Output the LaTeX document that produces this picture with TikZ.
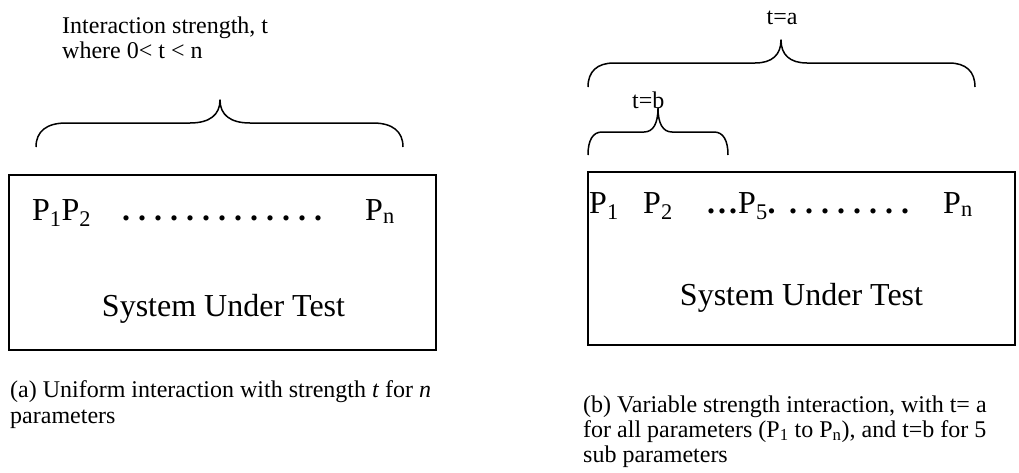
\documentclass[tikz,border=0pt]{standalone}
\usepackage{fontspec}
\setmainfont{Liberation Serif}
\newcommand\curlybrace[8]{%
  \draw[bracestyle] (#2,#5) .. controls (#2,{#6+0.35*(#5-#6)}) and ({#2+0.35*#8},#6) .. ({#2+#8},#6)
    -- ({#4-#8},#6) .. controls ({#4-0.35*#8},#6) and (#4,{#6-0.35*(#6-#7)}) .. (#4,#7)
    .. controls (#4,{#6-0.35*(#6-#7)}) and ({#4+0.35*#8},#6) .. ({#4+#8},#6)
    -- ({#3-#8},#6) .. controls ({#3-0.35*#8},#6) and (#3,{#6+0.35*(#5-#6)}) .. (#3,#5);}
\begin{document}
\frenchspacing
\begin{tikzpicture}[x=1pt,y=-1pt,
  bracestyle/.style={line width=1.5pt, line join=round},
  sysbox/.style={draw, line width=1.6pt, inner sep=0pt},
  lbl/.style={font=\fontsize{24}{26}\selectfont, inner sep=0pt, anchor=base west},
  pbig/.style={font=\fontsize{32}{36}\selectfont, inner sep=0pt, anchor=base west},
  captext/.style={font=\fontsize{24}{26}\selectfont, inner sep=0pt, anchor=base west}]
\useasboundingbox (0,0) rectangle (1019,472);

% ---- (a) ----
\node[sysbox, minimum width=427pt, minimum height=175pt] (boxa) at (222.5,262.5) {};
\curlybrace{a}{36}{403}{220}{147}{123}{100}{30}
\node[lbl] (inta) at (62,33) {Interaction strength, t};
\node[lbl] (intb) at (62,58) {where 0< t < n};
\node[pbig] (pa12) at (32,220) {P\textsubscript{1}P\textsubscript{2}};
\node[pbig] (dotsa) at (122,220) {\bfseries . . . . . . . . . . . . .};
\node[pbig] (pan) at (365,220) {P\textsubscript{n}};
\node[pbig, anchor=base] (suta) at (223.5,316) {System Under Test};
\node[captext] (capa1) at (10,397) {(a) Uniform interaction with strength \textit{t} for \textit{n}};
\node[captext] (capa2) at (10,423) {parameters};

% ---- (b) ----
\node[sysbox, minimum width=427pt, minimum height=173pt] (boxb) at (801.5,258.5) {};
\curlybrace{b}{588}{975}{781}{87}{63}{40}{26}
\curlybrace{c}{588}{728}{658}{155}{132}{108}{14}
\node[lbl, anchor=base] (ta) at (782,24) {t=a};
\node[lbl] (tb) at (632,108) {t=b};
\node[pbig] (pb1) at (589,213) {P\textsubscript{1}};
\node[pbig] (pb2) at (643,213) {P\textsubscript{2}};
\node[pbig] (ellb) at (707,213) {\bfseries .\kern3pt.\kern3pt.};
\node[pbig] (pb5) at (738,213) {P\textsubscript{5}\bfseries. \,. . . . . . . .};
\node[pbig] (pbn) at (943,213) {P\textsubscript{n}};
\node[pbig, anchor=base] (sutb) at (801.5,305) {System Under Test};
\node[captext] (capb1) at (583,412) {(b) Variable strength interaction, with t= a};
\node[captext] (capb2) at (583,437) {for all parameters (P\textsubscript{1} to P\textsubscript{n}), and t=b for 5};
\node[captext] (capb3) at (583,462) {sub parameters};
\end{tikzpicture}
\end{document}
